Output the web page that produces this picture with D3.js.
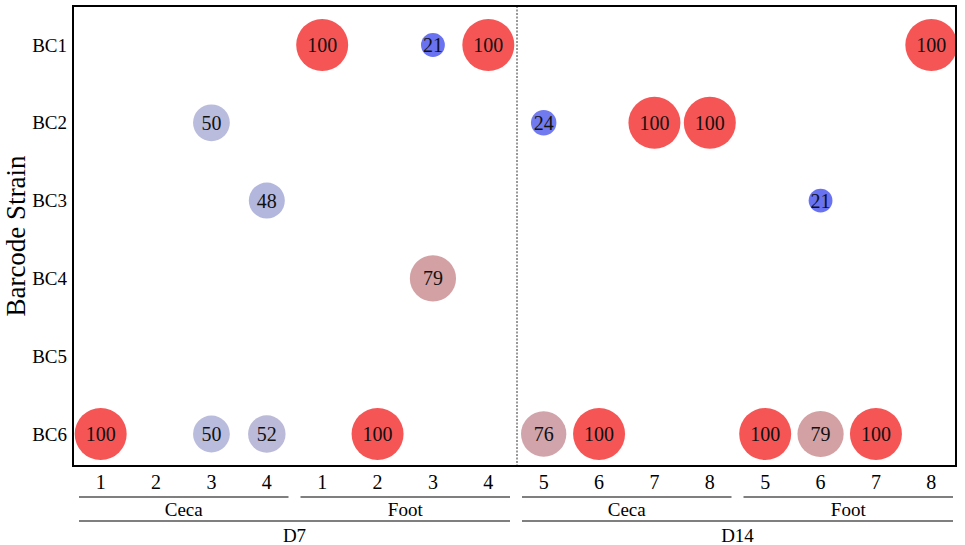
<!DOCTYPE html>
<html>
<head>
<meta charset="utf-8">
<script src="https://cdn.jsdelivr.net/npm/d3@7"></script>
<style>
	body { margin: 0; background: #fff; }
	svg { display: block; font-family: 'Liberation Serif', 'Times New Roman', serif; }
</style>
</head>
<body>
<div id="chart"></div>
<script>
// rows, groups and values
const strains = ['BC1', 'BC2', 'BC3', 'BC4', 'BC5', 'BC6'];
const days = ['D7', 'D14'];
const sites = ['Ceca', 'Foot'];
const d7Animals = ['1', '2', '3', '4'];
const d14Animals = ['5', '6', '7', '8'];

// [strain, day, site, animal, percent]
const bc1 = [['BC1', 'D7', 'Foot', '1', 100], ['BC1', 'D7', 'Foot', '3', 21], ['BC1', 'D7', 'Foot', '4', 100], ['BC1', 'D14', 'Foot', '8', 100]];
const bc2 = [['BC2', 'D7', 'Ceca', '3', 50], ['BC2', 'D14', 'Ceca', '5', 24], ['BC2', 'D14', 'Ceca', '7', 100], ['BC2', 'D14', 'Ceca', '8', 100]];
const bc3 = [['BC3', 'D7', 'Ceca', '4', 48], ['BC3', 'D14', 'Foot', '6', 21]];
const bc4 = [['BC4', 'D7', 'Foot', '3', 79]];
const bc6 = [
	['BC6', 'D7', 'Ceca', '1', 100], ['BC6', 'D7', 'Ceca', '3', 50], ['BC6', 'D7', 'Ceca', '4', 52],
	['BC6', 'D7', 'Foot', '2', 100], ['BC6', 'D14', 'Ceca', '5', 76], ['BC6', 'D14', 'Ceca', '6', 100],
	['BC6', 'D14', 'Foot', '5', 100], ['BC6', 'D14', 'Foot', '6', 79], ['BC6', 'D14', 'Foot', '7', 100]
];

const width = 965, height = 545;
const plot = { left: 73, top: 6, right: 956, bottom: 466 };

let columns = [];
days.forEach((day) => {
	let animals = day == 'D7' ? d7Animals : d14Animals;
	sites.forEach((site) => {
		animals.forEach((a) => columns.push({ key: `${day}-${site}-${a}`, day, site, animal: a }));
	});
});

let points = [...bc1, ...bc2, ...bc3, ...bc4, ...bc6].map((p) => ({
	strain: p[0], col: `${p[1]}-${p[2]}-${p[3]}`, value: p[4]
}));

const svg = d3.select('#chart')
	.append('svg')
	.attr('width', width)
	.attr('height', height);

const x = d3.scaleBand()
	.domain(columns.map((c) => c.key))
	.range([plot.left, 959]);

const y = d3.scalePoint()
	.domain(strains)
	.range([plot.top + 39, plot.bottom - 32]);

const r = d3.scaleSqrt()
	.domain([0, 100])
	.range([0, 26]);

const color = d3.scaleLinear()
	.domain([20, 50, 80, 100])
	.range(['#6670f2', '#b9bcdc', '#d4a0a2', '#f65555']);

svg.append('defs').append('clipPath').attr('id', 'clip')
	.append('rect')
	.attr('x', plot.left).attr('y', plot.top)
	.attr('width', plot.right - plot.left).attr('height', plot.bottom - plot.top);

// day separator
let sep = x(columns[d7Animals.length * sites.length].key) + 1;
svg.append('line')
	.attr('x1', sep).attr('x2', sep)
	.attr('y1', plot.top).attr('y2', plot.bottom)
	.attr('stroke', '#333')
	.attr('stroke-width', 1)
	.attr('stroke-dasharray', '2,1.5');

let bubble = svg.append('g')
	.attr('clip-path', 'url(#clip)')
	.selectAll('g')
	.data(points)
	.enter()
	.append('g')
	.attr('transform', (d) => `translate(${x(d.col) + x.bandwidth() / 2}, ${y(d.strain)})`);

bubble.append('circle')
	.attr('r', (d) => r(d.value))
	.attr('fill', (d) => color(d.value));

bubble.append('text')
	.attr('text-anchor', 'middle')
	.attr('dy', '0.35em')
	.attr('font-size', 20)
	.attr('fill', '#111')
	.text((d) => d.value);

// frame
svg.append('rect')
	.attr('x', plot.left).attr('y', plot.top)
	.attr('width', plot.right - plot.left).attr('height', plot.bottom - plot.top)
	.attr('fill', 'none')
	.attr('stroke', '#000')
	.attr('stroke-width', 2);

// y axis labels
svg.append('g')
	.selectAll('text')
	.data(strains)
	.enter()
	.append('text')
	.attr('x', plot.left - 6)
	.attr('y', (d) => y(d))
	.attr('dy', '0.35em')
	.attr('text-anchor', 'end')
	.attr('font-size', 19)
	.text((d) => d);

svg.append('text')
	.attr('transform', `translate(16, ${(plot.top + plot.bottom) / 2}) rotate(-90)`)
	.attr('text-anchor', 'middle')
	.attr('dy', '0.35em')
	.attr('font-size', 27)
	.text('Barcode Strain');

// x animal labels
svg.append('g')
	.selectAll('text')
	.data(columns)
	.enter()
	.append('text')
	.attr('x', (d) => x(d.key) + x.bandwidth() / 2)
	.attr('y', 482)
	.attr('dy', '0.35em')
	.attr('text-anchor', 'middle')
	.attr('font-size', 20)
	.text((d) => d.animal);

// group brackets
function groupSpan(filter, inset) {
	let cols = columns.filter(filter);
	return [x(cols[0].key) + inset, x(cols[cols.length - 1].key) + x.bandwidth() - inset];
}

let siteGroups = [];
days.forEach((day) => sites.forEach((site) => siteGroups.push({ day, site })));

siteGroups.forEach((g) => {
	let [x0, x1] = groupSpan((c) => c.day == g.day && c.site == g.site, 6);
	svg.append('line')
		.attr('x1', x0).attr('x2', x1)
		.attr('y1', 497).attr('y2', 497)
		.attr('stroke', '#555')
		.attr('stroke-width', 1.5);
	svg.append('text')
		.attr('x', (x0 + x1) / 2)
		.attr('y', 509)
		.attr('dy', '0.35em')
		.attr('text-anchor', 'middle')
		.attr('font-size', 19)
		.text(g.site);
});

days.forEach((day) => {
	let [x0, x1] = groupSpan((c) => c.day == day, 6);
	svg.append('line')
		.attr('x1', x0).attr('x2', x1)
		.attr('y1', 521).attr('y2', 521)
		.attr('stroke', '#555')
		.attr('stroke-width', 1.5);
	svg.append('text')
		.attr('x', (x0 + x1) / 2)
		.attr('y', 535)
		.attr('dy', '0.35em')
		.attr('text-anchor', 'middle')
		.attr('font-size', 19)
		.text(day);
});
</script>
</body>
</html>
